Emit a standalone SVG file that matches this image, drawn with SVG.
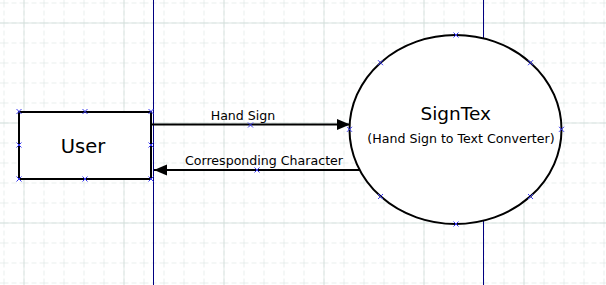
<svg xmlns="http://www.w3.org/2000/svg" width="606" height="285" viewBox="0 0 606 285">
  <style>
    .minor { stroke: #d3dfdc; stroke-width: 1; stroke-dasharray: 5 3; fill: none; }
    .major { stroke: #d0dcd9; stroke-width: 1.3; fill: none; }
    .lane { stroke: #000080; stroke-width: 1; fill: none; }
    .node { fill: #ffffff; stroke: #000000; stroke-width: 2; }
    .flow { stroke: #000000; stroke-width: 2; fill: none; }
    .handle { stroke: #3a3af0; stroke-width: 1; fill: none; }
    text { font-family: "DejaVu Sans", "Liberation Sans", sans-serif; fill: #000000; }
    .big { font-size: 19.5px; }
    .title { font-size: 18.5px; }
    .small { font-size: 12.6px; }
  </style>
  <defs>
    <pattern id="minorGrid" x="3.5" y="2.5" width="20" height="20" patternUnits="userSpaceOnUse">
      <path class="minor" d="M0 0 H20 M0 0 V20"/>
    </pattern>
    <pattern id="majorGrid" x="23.5" y="22.5" width="100" height="100" patternUnits="userSpaceOnUse">
      <path class="major" d="M0 0 H100 M0 0 V100"/>
    </pattern>
    <marker id="arrow" markerUnits="userSpaceOnUse" markerWidth="14" markerHeight="12" refX="13" refY="6" orient="auto">
      <path d="M0 0.5 L13 6 L0 11.5 Z" fill="#000000"/>
    </marker>
    <path id="x" class="handle" d="M-2.5 -2.5 L2.5 2.5 M-2.5 2.5 L2.5 -2.5"/>
  </defs>

  <!-- background grid -->
  <rect width="606" height="285" fill="#ffffff"/>
  <rect width="606" height="285" fill="url(#minorGrid)"/>
  <rect width="606" height="285" fill="url(#majorGrid)"/>

  <!-- swimlane dividers -->
  <g id="lanes">
    <line class="lane" x1="153.5" y1="0" x2="153.5" y2="285"/>
    <line class="lane" x1="483.5" y1="0" x2="483.5" y2="285"/>
  </g>

  <!-- data flows -->
  <g id="connectors">
    <line class="flow" x1="152" y1="124.5" x2="350" y2="124.5" marker-end="url(#arrow)"/>
    <text class="small" x="243" y="120" text-anchor="middle">Hand Sign</text>
    <use href="#x" x="250.5" y="125"/>
    <line class="flow" x1="360" y1="170" x2="154" y2="170" marker-end="url(#arrow)"/>
    <text class="small" x="264" y="165" text-anchor="middle">Corresponding Character</text>
    <use href="#x" x="257" y="170"/>
  </g>

  <!-- external entity -->
  <g id="user">
    <rect class="node" x="19" y="112" width="132" height="67"/>
    <text class="big" x="83" y="153" text-anchor="middle">User</text>
    <use href="#x" x="19" y="111.5"/>
    <use href="#x" x="85" y="111.5"/>
    <use href="#x" x="151" y="111.5"/>
    <use href="#x" x="19" y="145"/>
    <use href="#x" x="151" y="145"/>
    <use href="#x" x="19" y="179"/>
    <use href="#x" x="85" y="179"/>
    <use href="#x" x="151" y="179"/>
  </g>

  <!-- process -->
  <g id="signtex">
    <ellipse class="node" cx="455.5" cy="129.5" rx="106" ry="94.5"/>
    <text class="title" x="455.7" y="120" text-anchor="middle">SignTex</text>
    <text class="small" x="461" y="143" text-anchor="middle">(Hand Sign to Text Converter)</text>
    <use href="#x" x="456" y="35"/>
    <use href="#x" x="380.5" y="62.7"/>
    <use href="#x" x="530.5" y="62.7"/>
    <use href="#x" x="349.5" y="129.3"/>
    <use href="#x" x="561.5" y="129.3"/>
    <use href="#x" x="380.5" y="196.5"/>
    <use href="#x" x="530.5" y="196.5"/>
    <use href="#x" x="456" y="224"/>
  </g>
</svg>
